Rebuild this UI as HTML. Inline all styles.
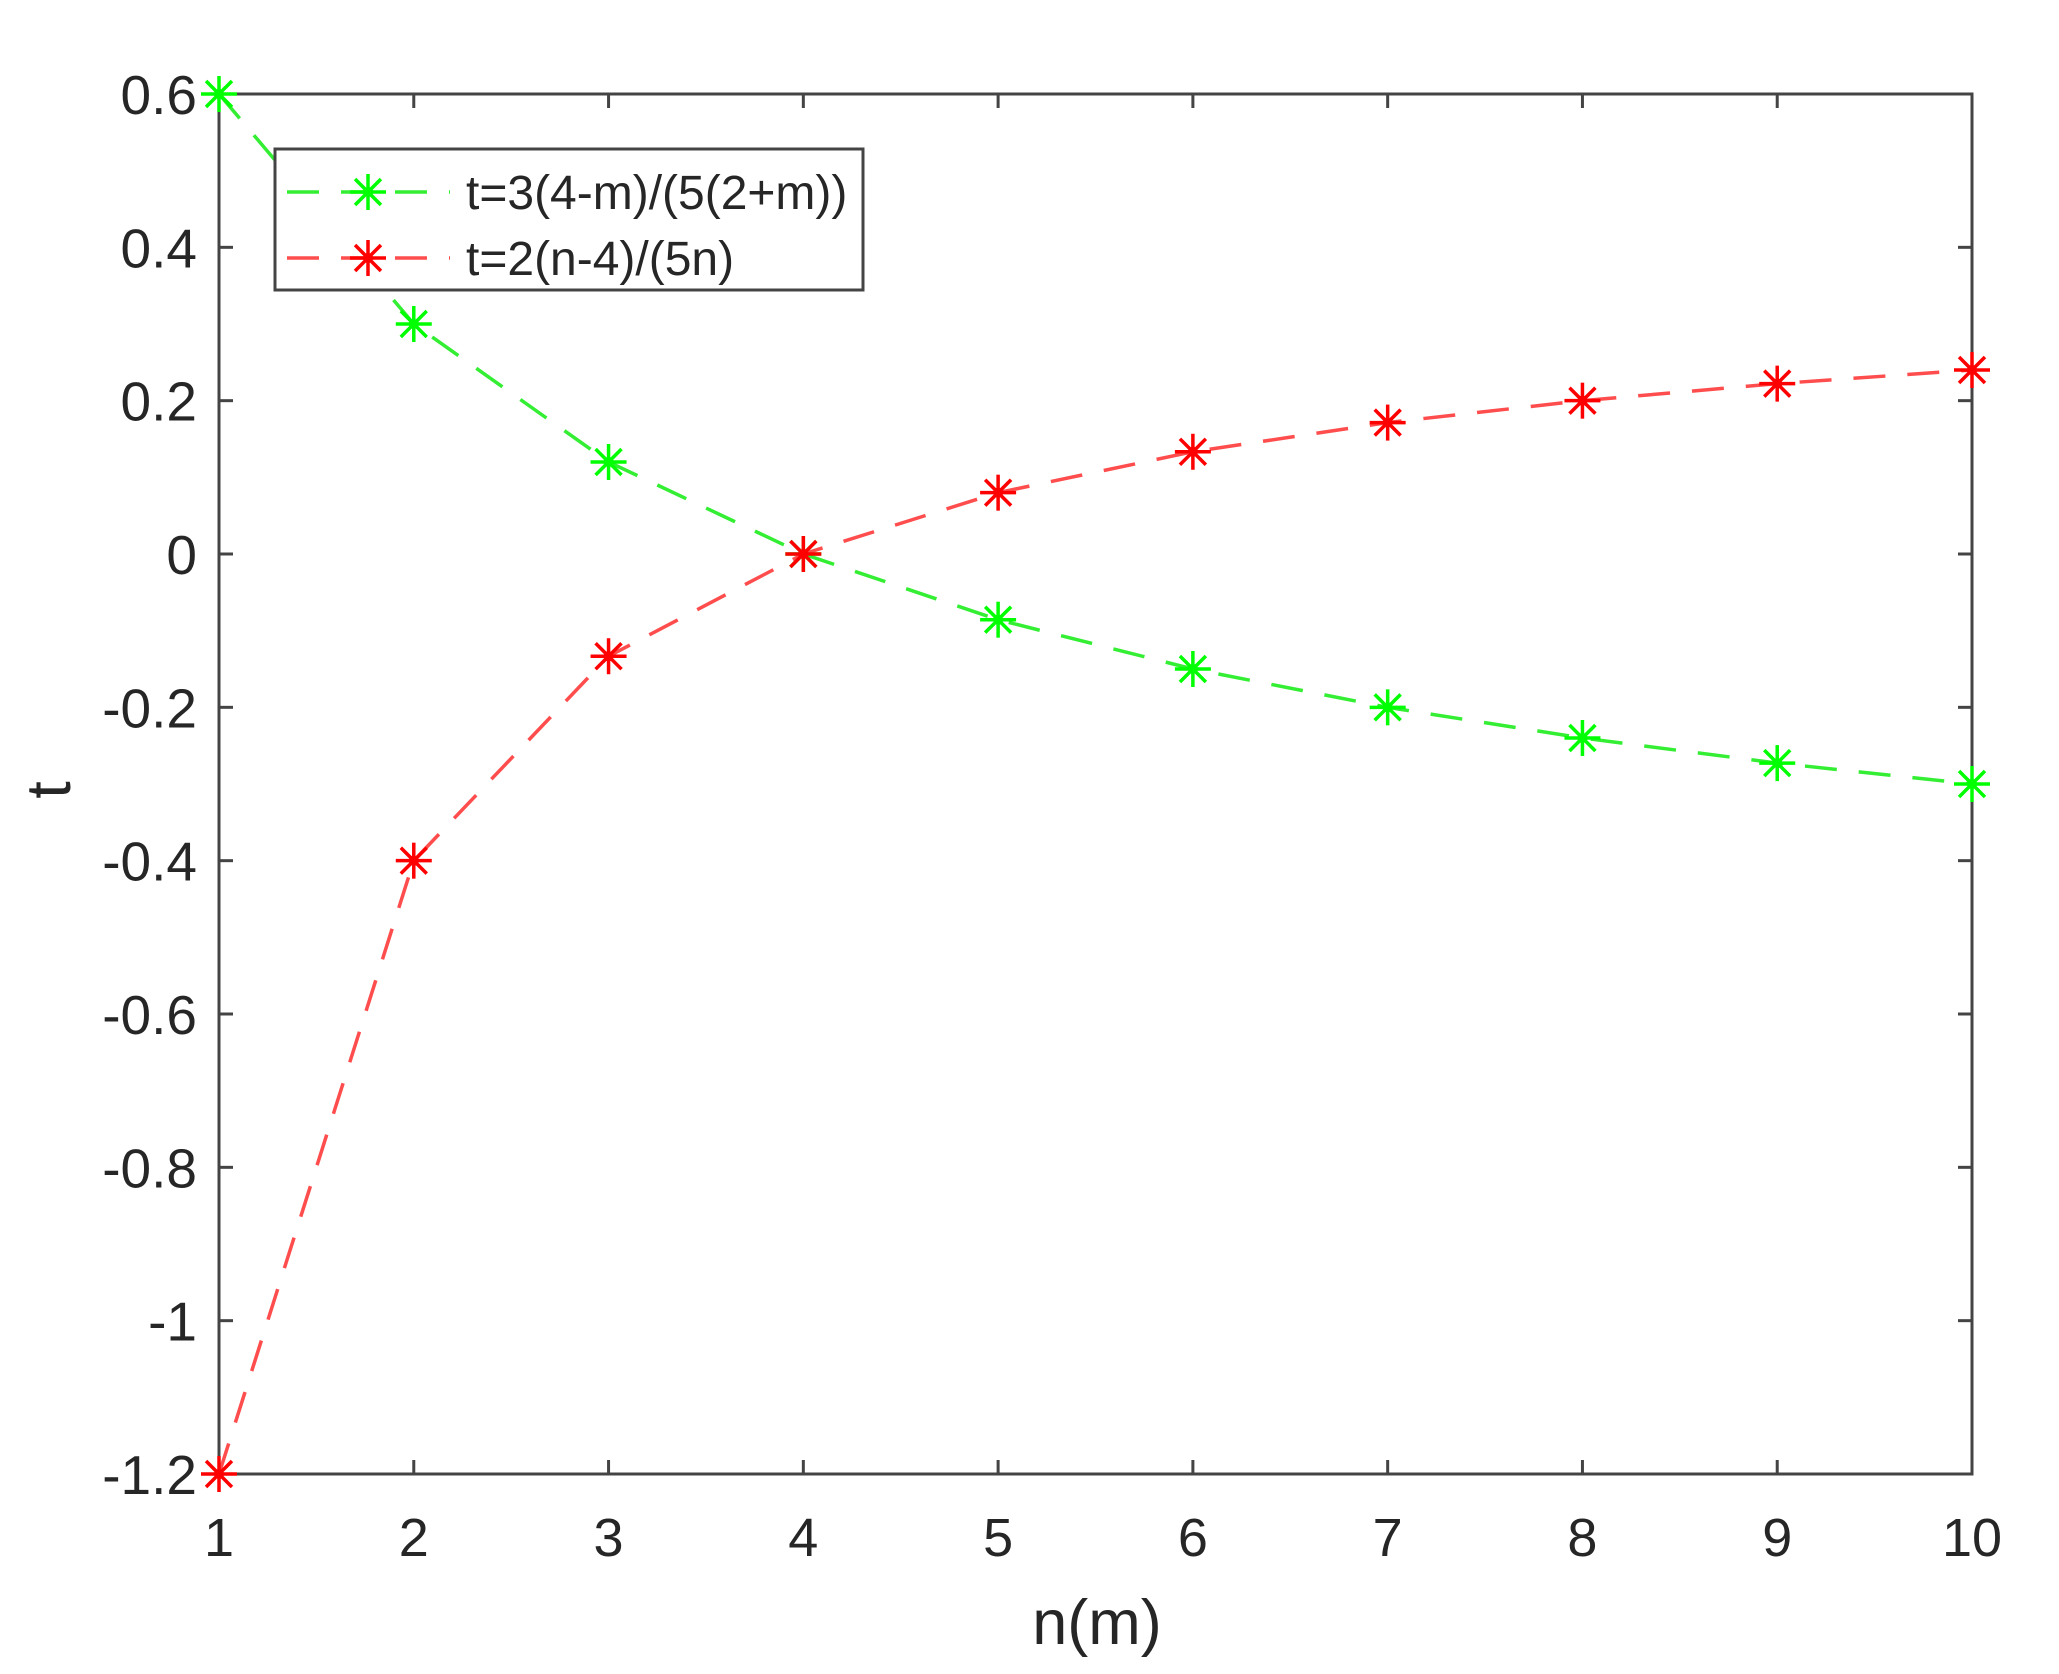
<!DOCTYPE html>
<html><head><meta charset="utf-8"><style>
html,body{margin:0;padding:0;background:#fff;}
svg{display:block;}
text{font-family:"Liberation Sans",Arial,sans-serif;fill:#262626;}
</style></head><body>
<svg id="s" width="2059" height="1674" xmlns="http://www.w3.org/2000/svg"></svg>
<script>
const s=document.getElementById('s');
const X0=219,X1=1972,Y0=94,Y1=1474;
const xs=n=>X0+(n-1)*(X1-X0)/9;
const ys=v=>Y0+(0.6-v)*(Y1-Y0)/1.8;
let h='<rect x="0" y="0" width="2059" height="1674" fill="#fff"/>';
for(let n=1;n<=10;n++){const x=xs(n);
 h+=`<line x1="${x}" y1="${Y1}" x2="${x}" y2="${Y1-14}" stroke="#444" stroke-width="3"/>`;
 h+=`<line x1="${x}" y1="${Y0}" x2="${x}" y2="${Y0+14}" stroke="#444" stroke-width="3"/>`;
 h+=`<text x="${x}" y="1556" font-size="54" text-anchor="middle">${n}</text>`;}
const yl=[0.6,0.4,0.2,0,-0.2,-0.4,-0.6,-0.8,-1,-1.2];
for(const v of yl){const y=ys(v);
 h+=`<line x1="${X0}" y1="${y}" x2="${X0+14}" y2="${y}" stroke="#444" stroke-width="3"/>`;
 h+=`<line x1="${X1}" y1="${y}" x2="${X1-14}" y2="${y}" stroke="#444" stroke-width="3"/>`;
 let lab=(v===0)?'0':(v===-1?'-1':v.toFixed(1));
 h+=`<text x="197" y="${y+20}" font-size="55" text-anchor="end">${lab}</text>`;}
h+=`<rect x="${X0}" y="${Y0}" width="${X1-X0}" height="${Y1-Y0}" fill="none" stroke="#444" stroke-width="3"/>`;
h+=`<text x="1097" y="1644" font-size="63" text-anchor="middle">n(m)</text>`;
h+=`<text transform="translate(70,790) rotate(-90)" font-size="63" text-anchor="middle">t</text>`;
function star(x,y,c,r){let o='';
 o+=`<line x1="${x-r}" y1="${y}" x2="${x+r}" y2="${y}" stroke="${c}" stroke-width="3.5"/>`;
 o+=`<line x1="${x}" y1="${y-r}" x2="${x}" y2="${y+r}" stroke="${c}" stroke-width="3.5"/>`;
 const d=r*0.72;
 o+=`<line x1="${x-d}" y1="${y-d}" x2="${x+d}" y2="${y+d}" stroke="${c}" stroke-width="3.5"/>`;
 o+=`<line x1="${x-d}" y1="${y+d}" x2="${x+d}" y2="${y-d}" stroke="${c}" stroke-width="3.5"/>`;
 o+=`<circle cx="${x}" cy="${y}" r="5" fill="${c}"/>`;return o;}
function series(f,lc,mc){let pts=[];for(let n=1;n<=10;n++)pts.push([xs(n),ys(f(n))]);
 let o=`<polyline points="${pts.map(p=>p.join(',')).join(' ')}" fill="none" stroke="${lc}" stroke-width="3.5" stroke-dasharray="32,22"/>`;
 for(const p of pts)o+=star(p[0],p[1],mc,18);return o;}
h+=series(m=>3*(4-m)/(5*(2+m)),'#33ee33','#00ff00');
h+=series(n=>2*(n-4)/(5*n),'#ff4d4d','#ff0000');
h+=`<rect x="275" y="149" width="588" height="141" fill="#fff" stroke="#444" stroke-width="3"/>`;
h+=`<line x1="287" y1="192" x2="450" y2="192" stroke="#33ee33" stroke-width="3.5" stroke-dasharray="32,22"/>`;
h+=star(368,192,'#00ff00',18);
h+=`<line x1="287" y1="258" x2="450" y2="258" stroke="#ff4d4d" stroke-width="3.5" stroke-dasharray="32,22"/>`;
h+=star(368,258,'#ff0000',18);
h+=`<text x="466" y="209" font-size="48">t=3(4-m)/(5(2+m))</text>`;
h+=`<text x="466" y="275" font-size="48">t=2(n-4)/(5n)</text>`;
s.innerHTML=h;
</script>
</body></html>
